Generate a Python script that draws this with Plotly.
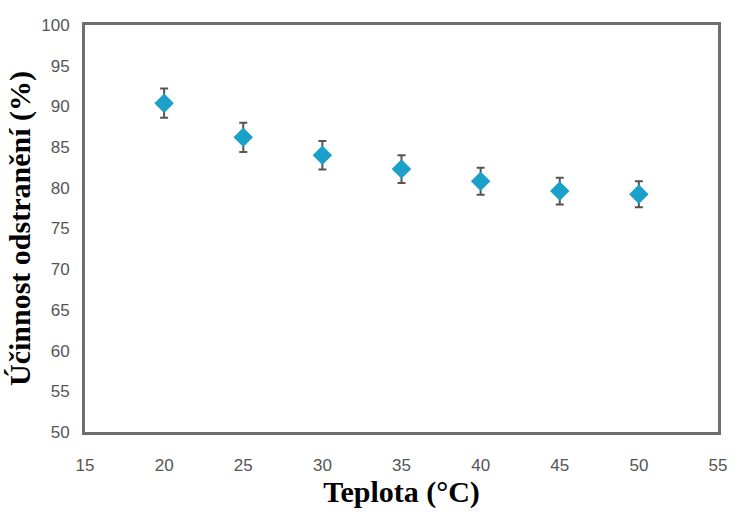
import plotly.graph_objects as go

teplota = [20, 25, 30, 35, 40, 45, 50]
ucinnost = [90.4, 86.2, 84.0, 82.3, 80.8, 79.6, 79.2]
chyba = [1.8, 1.8, 1.75, 1.7, 1.65, 1.65, 1.6]

x_ticks = [15, 20, 25, 30, 35, 40, 45, 50, 55]
y_ticks = [50, 55, 60, 65, 70, 75, 80, 85, 90, 95, 100]

fig = go.Figure()
fig.add_trace(go.Scatter(
    x=teplota, y=ucinnost, mode="markers",
    marker=dict(symbol="diamond", size=15, color="#1ba1c9",
                line=dict(width=0)),
    error_y=dict(type="data", array=chyba, visible=True,
                 color="#555555", thickness=2, width=4),
    showlegend=False,
))

tick_font = dict(family="Liberation Sans Narrow, Arial Narrow, Liberation Sans, sans-serif",
                 size=17, color="#555555")
serif = "Liberation Serif, Times New Roman, serif"

fig.update_layout(
    width=739, height=512,
    margin=dict(l=85, r=14, t=25, b=80),
    plot_bgcolor="white", paper_bgcolor="white",
    xaxis=dict(
        range=[15, 55], tickvals=x_ticks, ticktext=[str(v) for v in x_ticks],
        showgrid=False, zeroline=False, showline=True, mirror=True,
        linecolor="#6e6e6e", linewidth=3, ticks="",
        tickfont=tick_font, ticklabelstandoff=16,
        title=dict(text="<b>Teplota (°C)</b>",
                   font=dict(family=serif, size=30, color="#000000"), standoff=2),
    ),
    yaxis=dict(
        range=[50, 100], tickvals=y_ticks, ticktext=[str(v) for v in y_ticks],
        showgrid=False, zeroline=False, showline=True, mirror=True,
        linecolor="#6e6e6e", linewidth=3, ticks="",
        tickfont=tick_font, ticklabelstandoff=9,
        title=dict(text="<b>Účinnost odstranění (%)</b>",
                   font=dict(family=serif, size=30, color="#000000"), standoff=2),
    ),
)

fig.write_html("out.html")
